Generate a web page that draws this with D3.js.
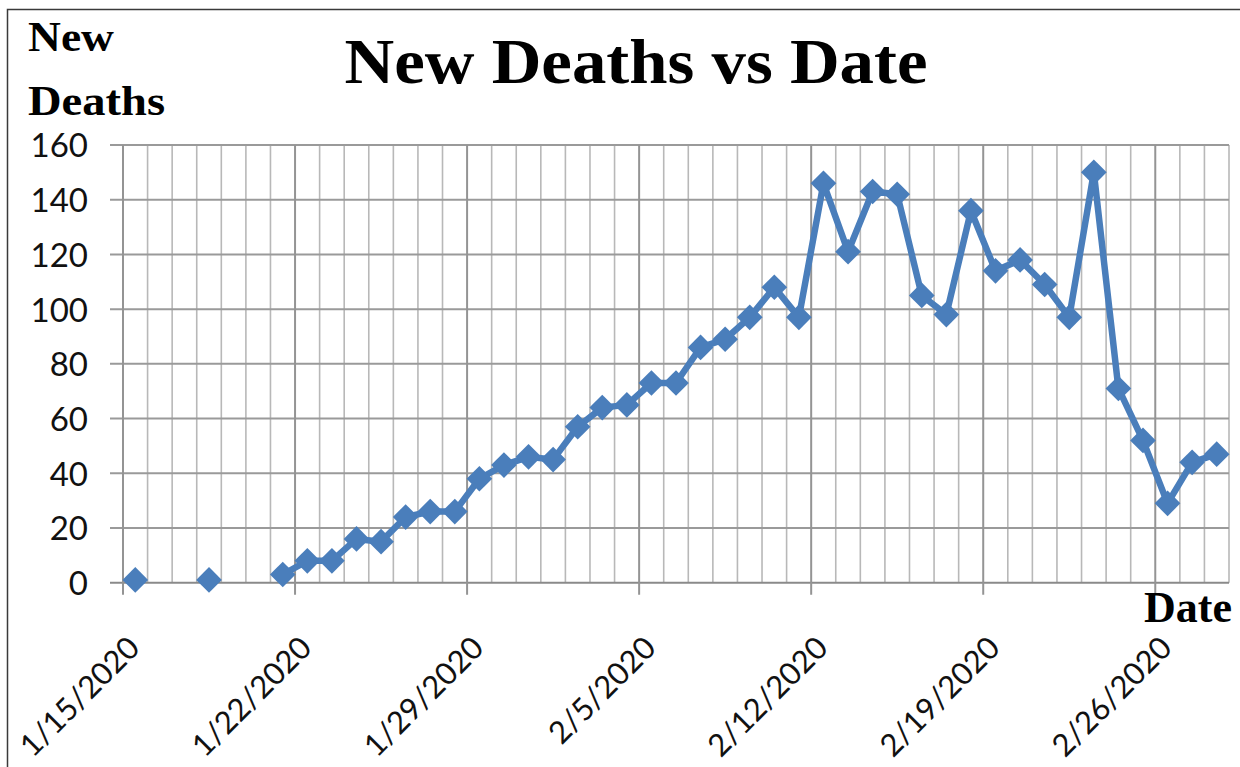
<!DOCTYPE html>
<html>
<head>
<meta charset="utf-8">
<script src="https://cdn.jsdelivr.net/npm/d3@7"></script>
<style>
  html, body { margin: 0; padding: 0; background: #fff; }
  svg { display: block; }
</style>
</head>
<body>
<svg id="chart" width="1240" height="767"></svg>
<script>
// ---- data ----
const startDate = "1/15/2020";
const dayOffsets = [0, 3, 6, 7, 8, 9, 10, 11, 12, 13, 14, 15, 16, 17, 18, 19, 20, 21, 22, 23, 24, 25, 26, 27, 28, 29, 30, 31, 32, 33, 34, 35, 36, 37, 38, 39, 40, 41, 42, 43, 44];
const newDeaths  = [1, 1, 3, 8, 8, 16, 15, 24, 26, 26, 38, 43, 46, 45, 57, 64, 65, 73, 73, 86, 89, 97, 108, 97, 146, 121, 143, 142, 105, 98, 136, 114, 118, 109, 97, 150, 71, 52, 29, 44, 47];
const yTicks = [0, 20, 40, 60, 80, 100, 120, 140, 160];
const xTickDays = [0, 7, 14, 21, 28, 35, 42];
const xTickLabels = ["1/15/2020", "1/22/2020", "1/29/2020", "2/5/2020", "2/12/2020", "2/19/2020", "2/26/2020"];
const titleText = "New Deaths vs Date";
const yTitle = ["New", "Deaths"];
const xTitle = "Date";

// ---- layout ----
const svg = d3.select("#chart");
const pLeft = 123, pRight = 1229, pTop = 145, pBottom = 582.7;
const x = d3.scaleLinear().domain([0, 45]).range([pLeft, pRight]);
const y = d3.scaleLinear().domain([0, 160]).range([pBottom, pTop]);

const serif = "'Liberation Serif', 'Times New Roman', serif";
const sans = "Lato, 'Open Sans', sans-serif";

// outer border
svg.append("rect").attr("x", 7.5).attr("y", 9.5).attr("width", 1300).attr("height", 1000)
  .attr("fill", "none").attr("stroke", "#3a3a3a").attr("stroke-width", 1.5);

// vertical gridlines (every day)
const days = d3.range(0, 46);
svg.append("g").selectAll("line").data(days.filter(d => d % 7 !== 0)).join("line")
  .attr("x1", d => x(d)).attr("x2", d => x(d))
  .attr("y1", pTop).attr("y2", pBottom)
  .attr("stroke", "#b8b8b8").attr("stroke-width", 1.6);

// horizontal gridlines + outer ticks
svg.append("g").selectAll("line").data(yTicks).join("line")
  .attr("x1", pLeft - 13).attr("x2", pRight)
  .attr("y1", d => y(d)).attr("y2", d => y(d))
  .attr("stroke", d => d === 0 ? "#8a8a8a" : "#9a9a9a").attr("stroke-width", 2);

// major vertical lines (weekly) with ticks below the axis
svg.append("g").selectAll("line").data(xTickDays).join("line")
  .attr("x1", d => x(d)).attr("x2", d => x(d))
  .attr("y1", pTop).attr("y2", pBottom + 12)
  .attr("stroke", "#949494").attr("stroke-width", 2);

// y tick labels via axis
const yAxis = d3.axisLeft(y).tickValues(yTicks).tickSize(0).tickPadding(35);
const gy = svg.append("g").attr("transform", `translate(${pLeft},0)`).call(yAxis);
gy.select(".domain").remove();
gy.selectAll("text").attr("font-family", sans).attr("font-size", 33).attr("fill", "#111")
  .attr("dy", "0.36em");

// x tick labels rotated
const xAxis = d3.axisBottom(x).tickValues(xTickDays).tickFormat((d, i) => xTickLabels[i]).tickSize(0);
const gx = svg.append("g").attr("transform", `translate(0,${pBottom})`).call(xAxis);
gx.select(".domain").remove();
gx.selectAll("text")
  .attr("font-family", sans).attr("font-size", 31).attr("fill", "#111")
  .attr("text-anchor", "end")
  .attr("dy", null).attr("y", null)
  .attr("transform", "translate(18,67) rotate(-45)");

// line with gaps
const pts = dayOffsets.map((d, i) => ({ day: d, v: newDeaths[i] }));
const segments = [];
let cur = [];
pts.forEach((p, i) => {
  if (i > 0 && p.day !== pts[i - 1].day + 1) { segments.push(cur); cur = []; }
  cur.push(p);
});
segments.push(cur);
const line = d3.line().x(p => x(p.day + 0.5)).y(p => y(p.v));
svg.append("g").selectAll("path").data(segments.filter(s => s.length > 1)).join("path")
  .attr("d", line).attr("fill", "none").attr("stroke", "#4a7ebb")
  .attr("stroke-width", 6.5).attr("stroke-linejoin", "round");

// diamond markers
const sym = d3.symbol(d3.symbolSquare, 330);
svg.append("g").selectAll("path").data(pts).join("path")
  .attr("d", sym)
  .attr("transform", p => `translate(${x(p.day + 0.5)},${y(p.v)}) rotate(45)`)
  .attr("fill", "#4a7ebb");

// titles
svg.append("text").attr("x", 636).attr("y", 83).attr("text-anchor", "middle")
  .attr("font-family", serif).attr("font-weight", "bold").attr("font-size", 64)
  .attr("textLength", 583).attr("lengthAdjust", "spacingAndGlyphs")
  .attr("fill", "#000").text(titleText);

svg.append("text").attr("x", 28).attr("y", 51)
  .attr("font-family", serif).attr("font-weight", "bold").attr("font-size", 43)
  .attr("textLength", 86).attr("lengthAdjust", "spacingAndGlyphs")
  .attr("fill", "#000").text(yTitle[0]);
svg.append("text").attr("x", 28).attr("y", 115)
  .attr("font-family", serif).attr("font-weight", "bold").attr("font-size", 43)
  .attr("textLength", 137).attr("lengthAdjust", "spacingAndGlyphs")
  .attr("fill", "#000").text(yTitle[1]);

svg.append("text").attr("x", 1144).attr("y", 622)
  .attr("font-family", serif).attr("font-weight", "bold").attr("font-size", 44)
  .attr("textLength", 88).attr("lengthAdjust", "spacingAndGlyphs")
  .attr("fill", "#000").text(xTitle);
</script>
</body>
</html>
